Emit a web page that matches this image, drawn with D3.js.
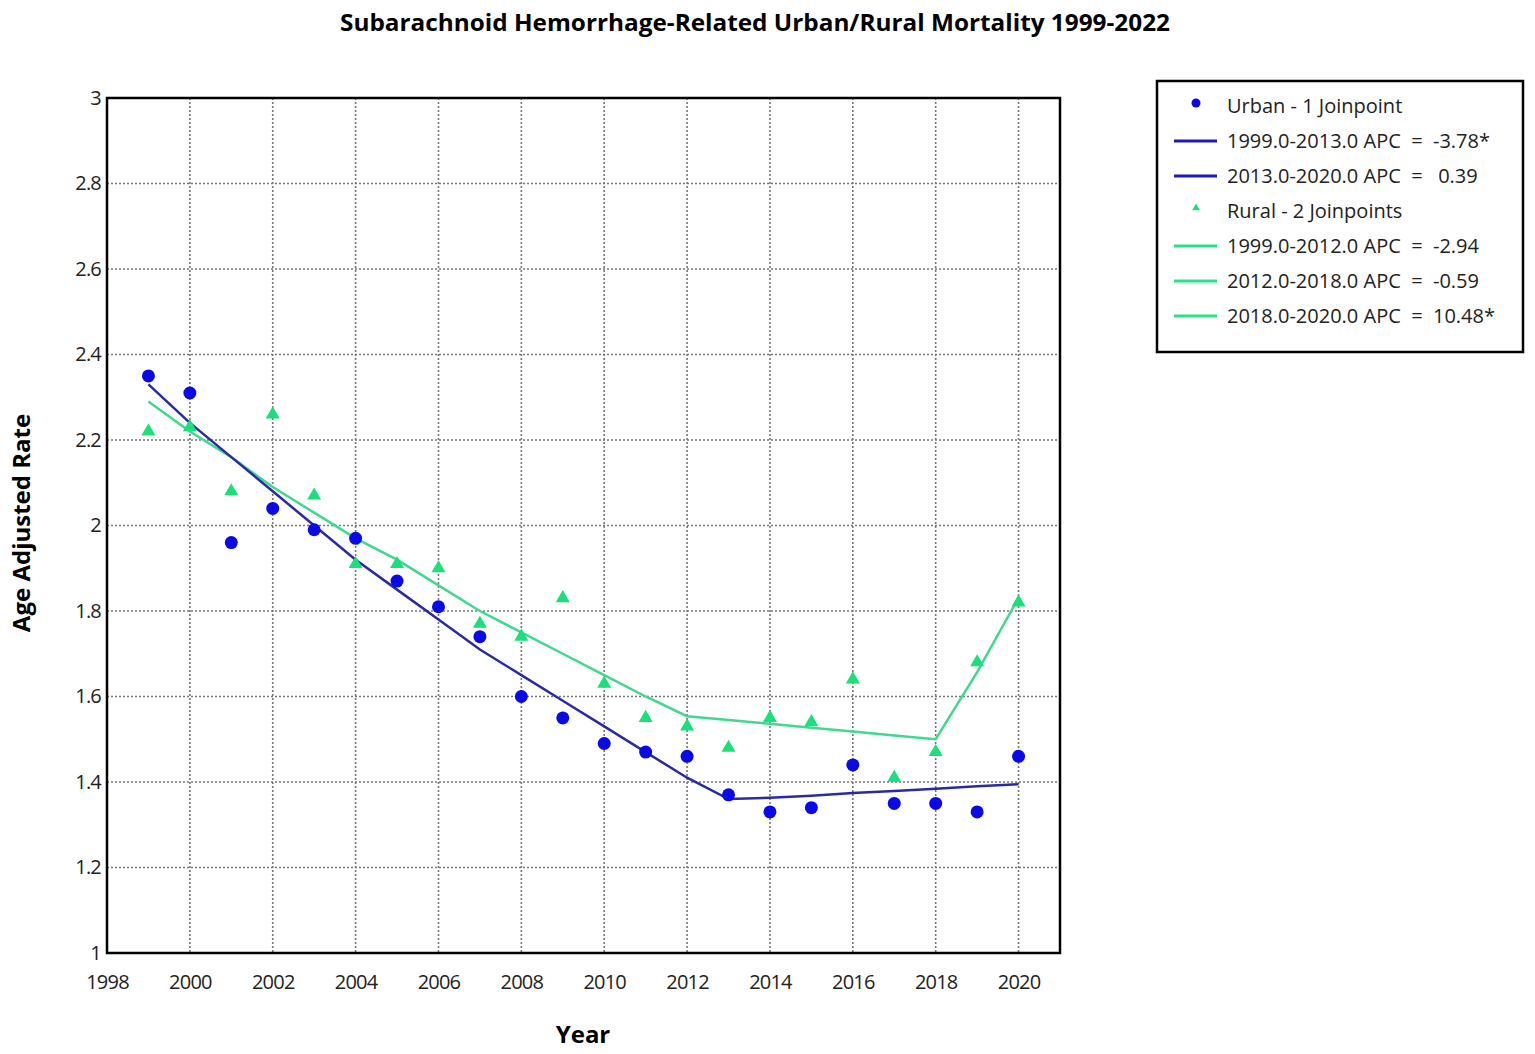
<!DOCTYPE html>
<html>
<head>
<meta charset="utf-8">
<script src="https://cdn.jsdelivr.net/npm/d3@7"></script>
<style>
  body { margin: 0; background: #fff; }
  svg text { font-family: "Open Sans", "Noto Sans", sans-serif; white-space: pre; }
</style>
</head>
<body>
<div id="chart"></div>
<script>
const years = [1999, 2000, 2001, 2002, 2003, 2004, 2005, 2006, 2007, 2008, 2009, 2010,
               2011, 2012, 2013, 2014, 2015, 2016, 2017, 2018, 2019, 2020]
const urbanRate = [2.35, 2.31, 1.96, 2.04, 1.99, 1.97, 1.87, 1.81, 1.74, 1.60, 1.55, 1.49,
                   1.47, 1.46, 1.37, 1.33, 1.34, 1.44, 1.35, 1.35, 1.33, 1.46]
const ruralRate = [2.22, 2.23, 2.08, 2.26, 2.07, 1.91, 1.91, 1.90, 1.77, 1.74, 1.83, 1.63,
                   1.55, 1.53, 1.48, 1.55, 1.54, 1.64, 1.41, 1.47, 1.68, 1.82]
// joinpoint model values per year (estimated from the drawn fit lines)
const urbanFit = [2.33, 2.24, 2.16, 2.08, 2.00, 1.92, 1.85, 1.78, 1.71, 1.65, 1.59, 1.53,
                  1.47, 1.41, 1.36, 1.363, 1.368, 1.374, 1.379, 1.384, 1.39, 1.395]
const ruralFit = [2.29, 2.22, 2.16, 2.09, 2.03, 1.97, 1.92, 1.86, 1.80, 1.75, 1.70, 1.65,
                  1.60, 1.554, 1.545, 1.536, 1.527, 1.518, 1.509, 1.50, 1.657, 1.831]

const xTicks = d3.range(1998, 2021, 2)
const yTicks = [1, 1.2, 1.4, 1.6, 1.8, 2, 2.2, 2.4, 2.6, 2.8, 3]

const legendItems = [
    {type: "dot", color: "#0a0ae6", label: "Urban - 1 Joinpoint"},
    {type: "line", color: "#1a1ab8", label: "1999.0-2013.0 APC  =  -3.78*"},
    {type: "line", color: "#1a1ab8", label: "2013.0-2020.0 APC  =   0.39"},
    {type: "tri", color: "#19e07a", label: "Rural - 2 Joinpoints"},
    {type: "line", color: "#25e383", label: "1999.0-2012.0 APC  =  -2.94"},
    {type: "line", color: "#25e383", label: "2012.0-2018.0 APC  =  -0.59"},
    {type: "line", color: "#25e383", label: "2018.0-2020.0 APC  =  10.48*"}
]

const urbanDot = "#0a0ae6", urbanLine = "#2a2aa8"
const ruralTri = "#19e07a", ruralLine = "#3fd98f"

const W = 1535, H = 1054
const margin = {top: 98, right: 475, bottom: 101, left: 107}
const width = W - margin.left - margin.right
const height = H - margin.top - margin.bottom

const svg = d3.select("#chart").append("svg")
    .attr("width", W)
    .attr("height", H)

const g = svg.append("g")
    .attr("transform", "translate(" + margin.left + "," + margin.top + ")")

const x = d3.scaleLinear().domain([1998, 2021]).range([0, width])
const y = d3.scaleLinear().domain([1, 3]).range([height, 0])

// grid
g.append("g").selectAll("line")
    .data(xTicks.slice(1))
    .enter().append("line")
    .attr("x1", d => x(d)).attr("x2", d => x(d))
    .attr("y1", 0).attr("y2", height)
    .attr("stroke", "#777").attr("stroke-width", 1.6).attr("stroke-dasharray", "2,2")
g.append("g").selectAll("line")
    .data(yTicks.slice(1, -1))
    .enter().append("line")
    .attr("x1", 0).attr("x2", width)
    .attr("y1", d => y(d)).attr("y2", d => y(d))
    .attr("stroke", "#777").attr("stroke-width", 1.6).attr("stroke-dasharray", "2,2")

// axes
const xAxis = g.append("g")
    .attr("transform", "translate(0," + height + ")")
    .call(d3.axisBottom(x).tickValues(xTicks).tickFormat(d3.format("d")).tickSize(0).tickPadding(22))
xAxis.select(".domain").remove()
xAxis.selectAll("text").attr("font-size", 20).attr("fill", "#222").attr("letter-spacing", -0.8)

const yAxis = g.append("g")
    .call(d3.axisLeft(y).tickValues(yTicks).tickFormat(d => d3.format("")(+d.toFixed(1))).tickSize(0).tickPadding(6))
yAxis.select(".domain").remove()
yAxis.selectAll("text").attr("font-size", 20).attr("fill", "#222").attr("letter-spacing", -0.8)

g.append("rect")
    .attr("width", width).attr("height", height)
    .attr("fill", "none").attr("stroke", "#000").attr("stroke-width", 2.5)

// fitted lines
const line = d3.line()
    .x((d, i) => x(years[i]))
    .y(d => y(d))
g.append("path").datum(ruralFit)
    .attr("d", line).attr("fill", "none").attr("stroke", ruralLine).attr("stroke-width", 2.5)
g.append("path").datum(urbanFit)
    .attr("d", line).attr("fill", "none").attr("stroke", urbanLine).attr("stroke-width", 2.5)

// observed points
const tri = d3.symbol().type(d3.symbolTriangle).size(85)
g.append("g").selectAll("path")
    .data(ruralRate)
    .enter().append("path")
    .attr("d", tri)
    .attr("transform", (d, i) => "translate(" + x(years[i]) + "," + y(d) + ")")
    .attr("fill", ruralTri)
g.append("g").selectAll("circle")
    .data(urbanRate)
    .enter().append("circle")
    .attr("cx", (d, i) => x(years[i]))
    .attr("cy", d => y(d))
    .attr("r", 6.5)
    .attr("fill", urbanDot)

// title and axis titles
svg.append("text")
    .attr("x", 755).attr("y", 31)
    .attr("text-anchor", "middle")
    .attr("font-size", 24).attr("font-weight", "bold")
    .attr("textLength", 830).attr("lengthAdjust", "spacingAndGlyphs")
    .text("Subarachnoid Hemorrhage-Related Urban/Rural Mortality 1999-2022")

svg.append("text")
    .attr("x", 583).attr("y", 1043)
    .attr("text-anchor", "middle")
    .attr("font-size", 24).attr("font-weight", "bold")
    .text("Year")

svg.append("text")
    .attr("transform", "translate(30,523) rotate(-90)")
    .attr("text-anchor", "middle")
    .attr("font-size", 24).attr("font-weight", "bold")
    .text("Age Adjusted Rate")

// legend
const legend = svg.append("g").attr("transform", "translate(1157,81)")
legend.append("rect")
    .attr("width", 366).attr("height", 271)
    .attr("fill", "#fff").attr("stroke", "#000").attr("stroke-width", 2.5)

const rows = legend.selectAll("g.row")
    .data(legendItems)
    .enter().append("g")
    .attr("class", "row")
    .attr("transform", (d, i) => "translate(0," + (25 + i * 35) + ")")

rows.filter(d => d.type === "line").append("line")
    .attr("x1", 17).attr("x2", 60)
    .attr("stroke", d => d.color).attr("stroke-width", 3)
rows.filter(d => d.type === "dot").append("circle")
    .attr("cx", 39).attr("cy", -3).attr("r", 4.5)
    .attr("fill", d => d.color)
rows.filter(d => d.type === "tri").append("path")
    .attr("d", d3.symbol().type(d3.symbolTriangle).size(26))
    .attr("transform", "translate(39,-3)")
    .attr("fill", d => d.color)

rows.append("text")
    .attr("x", 70).attr("y", 7)
    .attr("font-size", 20).attr("fill", "#222")
    .text(d => d.label)
</script>
</body>
</html>
